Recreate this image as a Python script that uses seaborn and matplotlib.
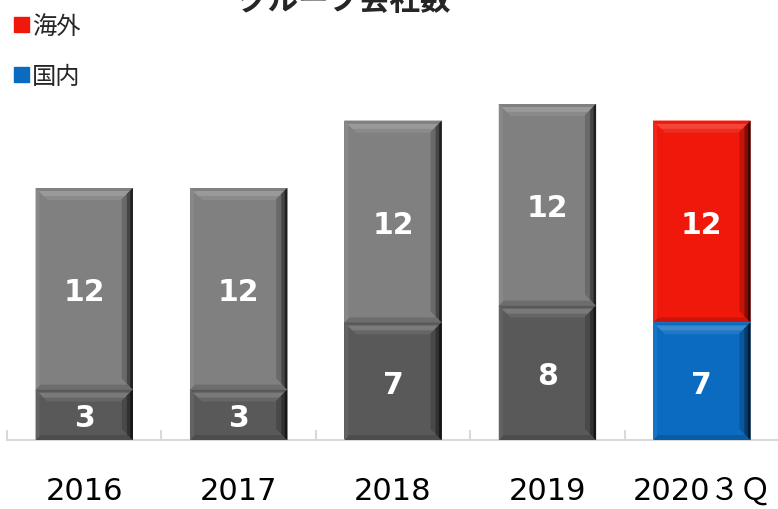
import matplotlib

matplotlib.use("Agg")
import matplotlib.pyplot as plt  # noqa: E402
import matplotlib.colors as mcolors  # noqa: E402
from matplotlib.patches import Patch, Polygon  # noqa: E402
from matplotlib.ticker import FixedLocator  # noqa: E402
import numpy as np  # noqa: E402
import seaborn as sns  # noqa: E402

years = ["2016", "2017", "2018", "2019", "2020３Ｑ"]
domestic = [3, 3, 7, 8, 7]
overseas = [12, 12, 12, 12, 12]
totals = [d + o for d, o in zip(domestic, overseas)]

GREY_TOP = "#808080"
GREY_LOW = "#595959"
RED = "#F0180A"
BLUE = "#0B6BC1"
top_colors = [GREY_TOP] * 4 + [RED]
low_colors = [GREY_LOW] * 4 + [BLUE]

CJK = ["Noto Sans CJK JP", "DejaVu Sans"]
LATIN = ["DejaVu Sans", "Noto Sans CJK JP"]

sns.set_style("white")
plt.rcParams["font.family"] = LATIN

fig = plt.figure(figsize=(7.78, 5.1), dpi=100)
ax = fig.add_axes([7 / 778, 69 / 510, 772 / 778, 352.8 / 510])

sns.barplot(x=years, y=totals, hue=years, palette=top_colors, legend=False,
            width=0.63, saturation=1, ax=ax, linewidth=0)
sns.barplot(x=years, y=domestic, hue=years, palette=low_colors, legend=False,
            width=0.63, saturation=1, ax=ax, linewidth=0)

ax.set_xlim(-0.5, 4.5)
ax.set_ylim(0, 21)


def shade(c, f):
    r, g, b = mcolors.to_rgb(c)
    if f > 0:
        return (r + (1 - r) * f, g + (1 - g) * f, b + (1 - b) * f)
    return (r * (1 + f), g * (1 + f), b * (1 + f))


# bevel look: pixel sizes converted to data units
bbox = ax.get_position()
px_x = (bbox.width * 778) / 5.0
px_y = (bbox.height * 510) / 21.0


def trap(side, x0, x1, y0, y1, px, c):
    dx, dy = px / px_x, px / px_y
    pts = {
        "top": [(x0, y1), (x1, y1), (x1 - dx, y1 - dy), (x0 + dx, y1 - dy)],
        "right": [(x1, y1), (x1, y0), (x1 - dx, y0 + dy), (x1 - dx, y1 - dy)],
        "bottom": [(x0, y0), (x1, y0), (x1 - dx, y0 + dy), (x0 + dx, y0 + dy)],
        "left": [(x0, y0), (x0, y1), (x0 + dx, y1 - dy), (x0 + dx, y0 + dy)],
    }[side]
    ax.add_patch(Polygon(pts, closed=True, color=c, lw=0, zorder=3))


def bevel(x0, x1, y0, y1, c):
    trap("bottom", x0, x1, y0, y1, 5, shade(c, -0.15))
    trap("left", x0, x1, y0, y1, 4, shade(c, 0.06))
    trap("top", x0, x1, y0, y1, 12, shade(c, 0.08))
    trap("top", x0, x1, y0, y1, 8, shade(c, 0.2))
    trap("top", x0, x1, y0, y1, 3, shade(c, 0.0))
    trap("right", x0, x1, y0, y1, 11, shade(c, -0.18))
    trap("right", x0, x1, y0, y1, 6, shade(c, -0.45))
    trap("right", x0, x1, y0, y1, 2.5, shade(c, -0.75))


for i in range(len(years)):
    x0, x1 = i - 0.315, i + 0.315
    bevel(x0, x1, domestic[i], totals[i], top_colors[i])
    bevel(x0, x1, 0, domestic[i], low_colors[i])
    ax.text(i, domestic[i] + overseas[i] / 2, str(overseas[i]), ha="center", va="center_baseline",
            color="white", fontsize=21.5, fontweight="bold", zorder=4)
    ax.text(i, domestic[i] / 2, str(domestic[i]), ha="center", va="center_baseline",
            color="white", fontsize=21.5, fontweight="bold", zorder=4)

for side in ("top", "right", "left"):
    ax.spines[side].set_visible(False)
ax.spines["bottom"].set_color("#D9D9D9")
ax.spines["bottom"].set_linewidth(1.5)
ax.set_yticks([])
ax.xaxis.set_minor_locator(FixedLocator(np.arange(-0.5, 4.6, 1)))
ax.tick_params(axis="x", which="major", length=0, pad=26, labelsize=22, labelcolor="black")
ax.tick_params(axis="x", which="minor", direction="in", length=7.5, width=1.5, color="#D9D9D9", bottom=True)
ax.set_xlabel("")
ax.set_ylabel("")

fig.text(345 / 778, 500 / 510, "グループ会社数", ha="center", va="baseline",
         fontsize=22, fontweight="bold", family=CJK)

handles = [Patch(color=RED, label="海外"), Patch(color=BLUE, label="国内")]
fig.legend(handles=handles, loc="upper left", bbox_to_anchor=(14 / 778, 1 - 14 / 510),
           frameon=False, prop={"family": CJK, "size": 17.5}, handlelength=0.6,
           handleheight=0.6, handletextpad=0.15, labelspacing=1.0, borderpad=0,
           borderaxespad=0)

fig.savefig("out.png", dpi=100)
